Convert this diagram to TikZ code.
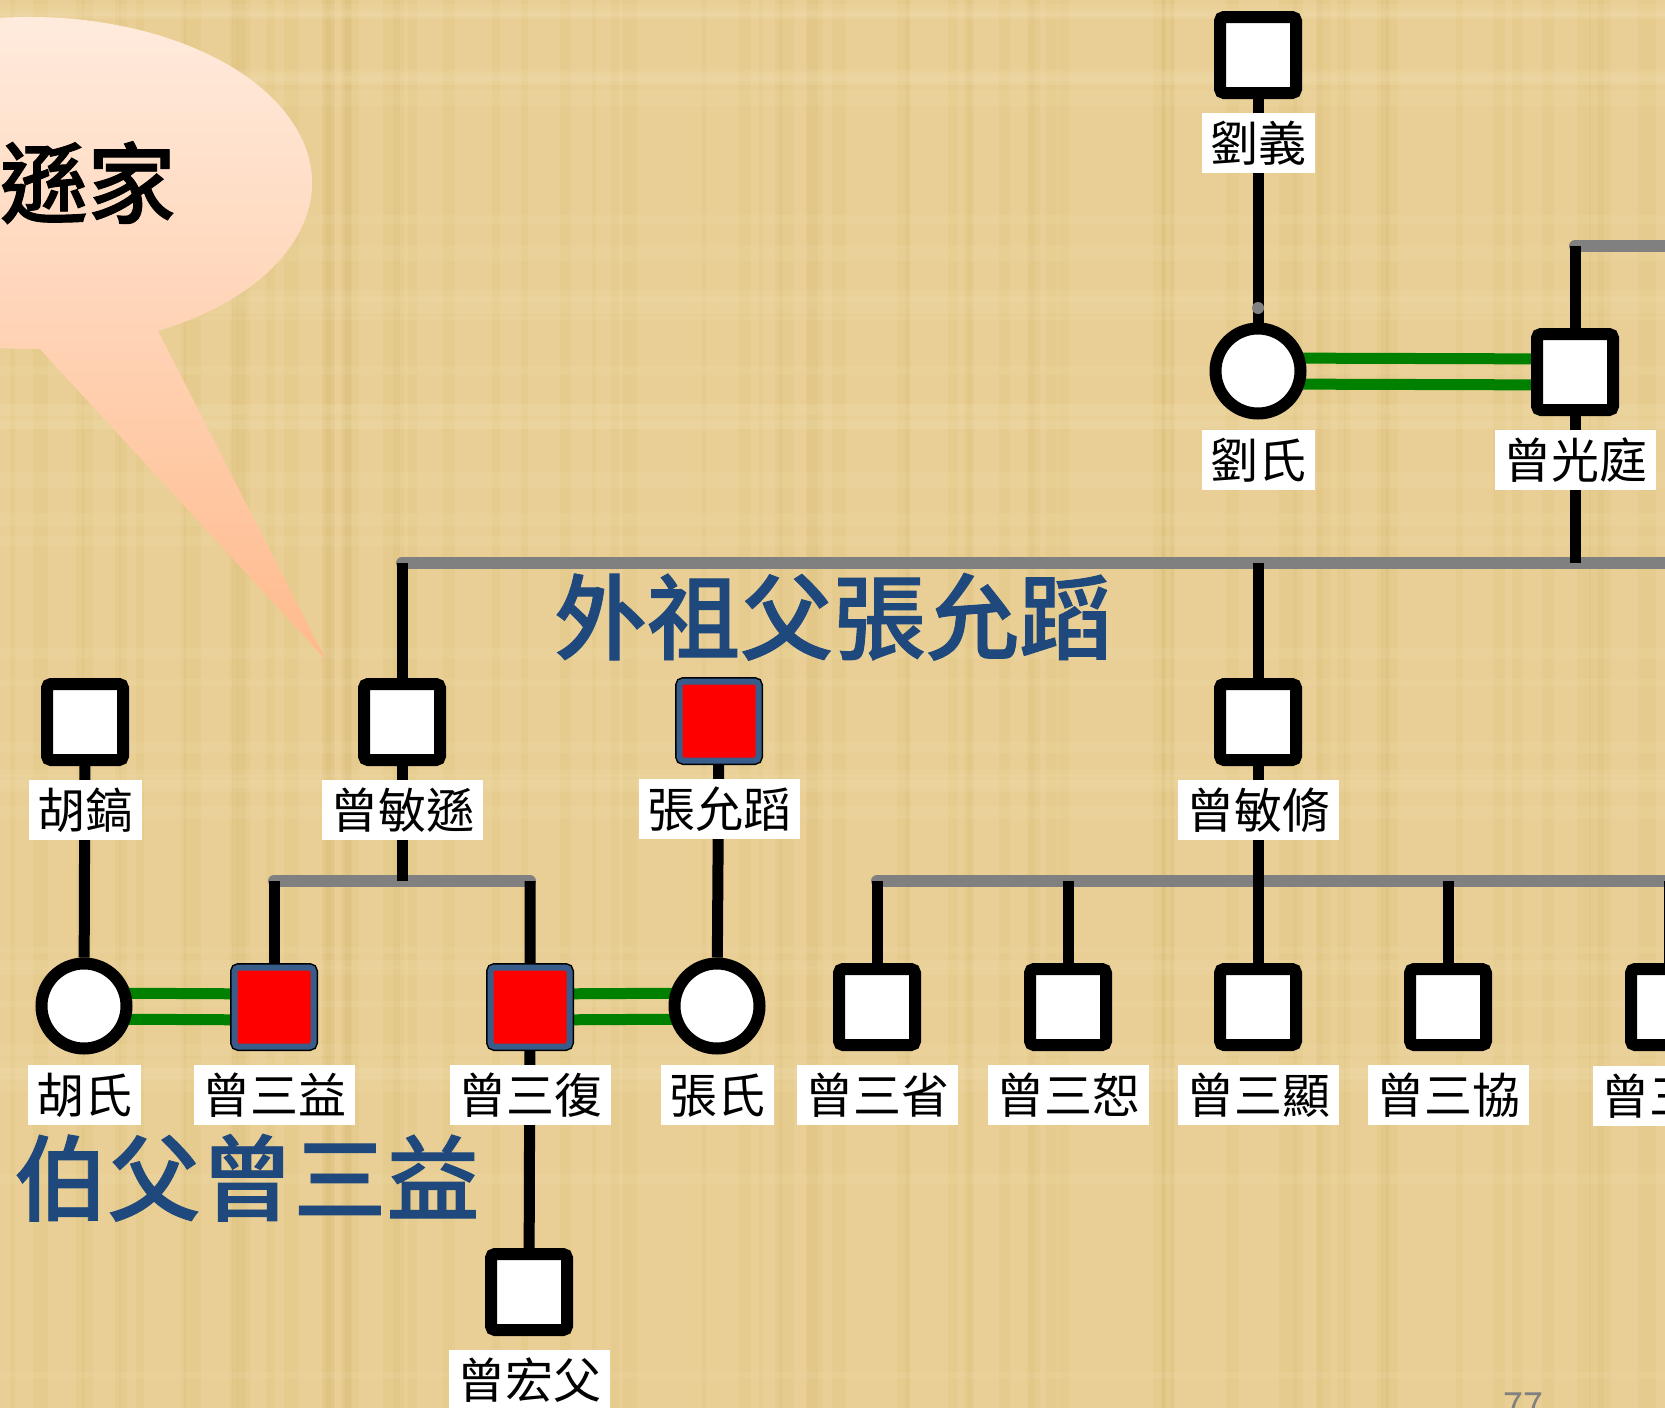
\documentclass[tikz,border=0pt]{standalone}
\usepackage{fontspec}
\newfontfamily\cjk{Noto Sans CJK TC}
\newfontfamily\cjkmid[FakeBold=1]{Noto Sans CJK TC Medium}
\usepackage{xcolor}
\definecolor{paper}{HTML}{E9CF95}
\definecolor{paperdark}{HTML}{C9A85A}
\definecolor{paperlight}{HTML}{F6E6BC}
\definecolor{bubbletop}{HTML}{FFEDE0}
\definecolor{bubblebot}{HTML}{FFBA8C}
\definecolor{headblue}{HTML}{1F497D}
\definecolor{boxblue}{HTML}{385D8A}
\definecolor{sibgrey}{HTML}{808080}
\definecolor{wedgreen}{HTML}{008000}
\usetikzlibrary{positioning,backgrounds}

\begin{document}
\begin{tikzpicture}[x=0.5pt, y=-0.5pt,
    male/.style={draw=black, fill=white, line width=6pt, rounded corners=2pt, minimum size=38pt, inner sep=0pt},
    female/.style={circle, draw=black, fill=white, line width=6pt, minimum size=42.5pt, inner sep=0pt},
    marked/.style={draw=boxblue, fill=red, line width=3pt, rounded corners=2pt, minimum size=39.5pt, inner sep=0pt, outer sep=2.25pt, preaction={draw=black, line width=4.5pt}},
    lbl/.style={fill=white, font=\cjk\fontsize{24pt}{24pt}\selectfont, text height=21.1pt, text depth=2.9pt, inner xsep=4.25pt, inner ysep=3pt},
    heading/.style={text=headblue, font=\cjkmid\fontsize{46.5pt}{46.5pt}\selectfont, text height=40.9pt, text depth=5.6pt, inner sep=0pt},
    conn/.style={black, line width=5.5pt},
    sib/.style={sibgrey, line width=6pt, line cap=round},
    wed/.style={wedgreen, line width=5.5pt}]
    \useasboundingbox (0,0) rectangle (1665,1408);
    % Paper
    \begin{scope}[on background layer]
      \fill[paper] (0,0) rectangle (1665,1408);
      \pgfmathsetseed{11}
      \foreach \i in {1,...,70}
        \fill[paperdark, opacity=0.1] ({rnd*1665},0) rectangle ++({4+rnd*14},1408);
      \foreach \i in {1,...,40}
        \fill[paperlight, opacity=0.12] (0,{rnd*1408}) rectangle ++(1665,{4+rnd*12});
    \end{scope}
    % Speech bubble
    \coordinate (bub) at (30,183);
    \shade[top color=bubbletop, bottom color=bubblebot]
      ([shift={(88:282 and 166)}]bub) -- (326,660) -- ([shift={(63:282 and 166)}]bub)
      arc[start angle=63, end angle=-272, x radius=282, y radius=166] -- cycle;
    \node[font=\cjkmid\fontsize{44pt}{44pt}\selectfont, text height=38.7pt, text depth=5.3pt, inner sep=0pt, anchor=east] (bubtext) at (176,183) {遜家};
    % Men
    \foreach \n/\x/\y/\t in {liuyi/1258/55/劉義, guangting/1575/372/曾光庭, huhao/85/722/胡鎬, minxun/402/722/曾敏遜, minxiu/1258/722/曾敏脩, sansheng/877/1007/曾三省, sanshu/1068/1007/曾三恕, sanxian/1258/1007/曾三顯, sanxie/1448/1007/曾三協, hongfu/529/1292/曾宏父} {
      \node[male] (\n) at (\x,\y) {};
      \node[lbl, below=7pt of \n] (\n-l) {\t};
    }
    \node[male] (sanx) at (1669,1007) {};
    \node[lbl, anchor=west] (sanx-l) at (1593,1096) {曾三};
    % Women
    \foreach \n/\x/\y/\t in {liushi/1258/371/劉氏, hushi/84/1006/胡氏, zhangshi/717/1006/張氏} {
      \node[female] (\n) at (\x,\y) {};
      \node[lbl, below=5pt of \n] (\n-l) {\t};
    }
    % Marked
    \foreach \n/\x/\y/\t in {zhangyundao/719/721/張允蹈, sanyi/274/1007/曾三益, sanfu/530/1007/曾三復} {
      \node[marked] (\n) at (\x,\y) {};
      \node[lbl, below=7pt of \n] (\n-l) {\t};
    }
    % Headings
    \node[heading] (waizufu) at (833,617) {外祖父張允蹈};
    \node[heading] (bofu) at (247,1178) {伯父曾三益};
    \node[text=sibgrey, font=\cjk\fontsize{18pt}{18pt}\selectfont, anchor=base west, inner sep=0pt] (pagenum) at (1503,1418) {77};
    % Lines
    \coordinate (topsib) at (1575,246);
    \coordinate (midsib) at (402,563);
    \coordinate (leftsib) at (274,881);
    \coordinate (rightsib) at (877,881);
    \coordinate (farright) at (1690,0);
    \begin{scope}[on background layer]
      \draw[conn] (liuyi) -- (liushi);
      \fill[sibgrey] (1258,308) circle (3pt);
      \draw[sib] (topsib) -- (topsib -| farright);
      \draw[sib] (midsib) -- (midsib -| farright);
      \draw[sib] (leftsib) -- (leftsib -| sanfu);
      \draw[sib] (rightsib) -- (rightsib -| farright);
      \draw[conn] (topsib) -- (guangting) -- (guangting |- midsib);
      \draw[conn] (midsib) -- (minxun) -- (minxun |- leftsib);
      \draw[conn] (midsib -| minxiu) -- (minxiu) -- (sanxian);
      \draw[conn] (leftsib) -- (sanyi);
      \draw[conn] (leftsib -| sanfu) -- (sanfu) -- (hongfu);
      \foreach \n in {sansheng, sanshu, sanxie, sanx}
        \draw[conn] (rightsib -| \n) -- (\n);
      \draw[conn] (huhao) -- (hushi);
      \draw[conn] (zhangyundao) -- (zhangshi);
      \foreach \a/\b in {liushi/guangting, hushi/sanyi, sanfu/zhangshi} {
        \draw[wed] ([yshift=6.5pt]\a.center) -- ([yshift=6.5pt]\b.center);
        \draw[wed] ([yshift=-6.5pt]\a.center) -- ([yshift=-6.5pt]\b.center);
      }
    \end{scope}
  \end{tikzpicture}
\end{document}
